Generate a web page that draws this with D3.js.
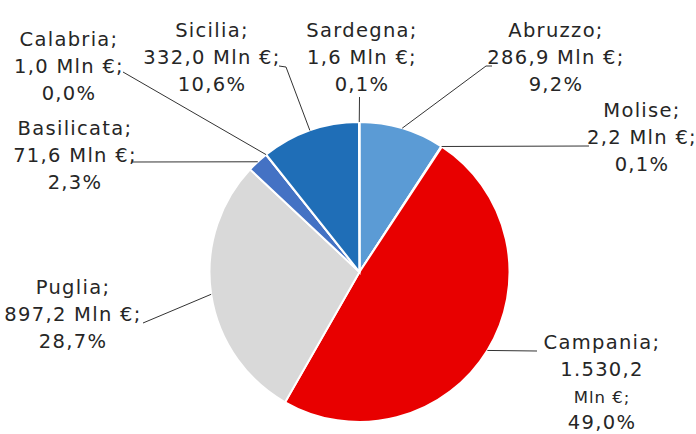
<!DOCTYPE html>
<html lang="it">
<head>
<meta charset="utf-8">
<title>Mezzogiorno</title>
<script src="https://cdn.jsdelivr.net/npm/d3@7"></script>
<style>
  body { margin: 0; background: #fff; }
  .lbl { font-family: "DejaVu Sans", sans-serif; font-size: 19.5px; fill: #262626; letter-spacing: 1.3px; }
  .lead { fill: none; stroke: #333; stroke-width: 1; }
</style>
</head>
<body>
<svg id="chart" width="696" height="434"></svg>
<script>
// data (Mln €)
var regions = ["Abruzzo", "Molise", "Campania", "Puglia", "Basilicata", "Calabria", "Sicilia", "Sardegna"];
var values  = [286.9, 2.2, 1530.2, 897.2, 71.6, 1.0, 332.0, 1.6];
var valueLabels = ["286,9", "2,2", "1.530,2", "897,2", "71,6", "1,0", "332,0", "1,6"];
var pctLabels   = ["9,2%", "0,1%", "49,0%", "28,7%", "2,3%", "0,0%", "10,6%", "0,1%"];
var colors = ["#5B9BD5", "#A5A5A5", "#E80000", "#D9D9D9", "#4472C4", "#264478", "#1F6EB7", "#636363"];

// label placement: text centre x, first baseline y, leader points on label side
var labelPos = [
  {x: 556, y: 37,  pts: [[492, 66], [486, 66]]},
  {x: 642, y: 117, pts: [[589, 146]]},
  {x: 602, y: 349, pts: [[537, 351]]},
  {x: 73,  y: 294, pts: [[143, 323]]},
  {x: 75,  y: 135, pts: [[132, 162]]},
  {x: 69,  y: 46,  pts: [[123, 72]]},
  {x: 212, y: 37,  pts: [[279, 66], [286, 67]]},
  {x: 362, y: 37,  pts: [[359.5, 97]]}
];

var cx = 359.5, cy = 272, r = 150;
var svg = d3.select("#chart");
var g = svg.append("g").attr("transform", "translate(" + cx + "," + cy + ")");

var pie = d3.pie().sort(null).value(function(d){ return d; });
var arcs = pie(values);
var arc = d3.arc().innerRadius(0).outerRadius(r);

g.selectAll("path.slice")
  .data(arcs)
  .enter()
  .append("path")
  .attr("class", "slice")
  .attr("d", arc)
  .attr("fill", function(d, i){ return colors[i]; })
  .attr("stroke", "#fff")
  .attr("stroke-width", 2);

// leader lines
svg.selectAll("path.lead")
  .data(arcs)
  .enter()
  .append("path")
  .attr("class", "lead")
  .attr("d", function(d, i){
    var a = (d.startAngle + d.endAngle) / 2;
    var p = [cx + r * Math.sin(a), cy - r * Math.cos(a)];
    var pts = labelPos[i].pts.concat([p]);
    return d3.line()(pts);
  });

// labels
var lh = 27;
arcs.forEach(function(d, i){
  var lp = labelPos[i];
  var t = svg.append("text").attr("class", "lbl").attr("text-anchor", "middle");
  if (regions[i] == "Campania") {
    t.append("tspan").attr("x", lp.x).attr("y", lp.y).text(regions[i] + ";");
    t.append("tspan").attr("x", lp.x).attr("y", lp.y + lh).text(valueLabels[i]);
    t.append("tspan").attr("x", lp.x).attr("y", lp.y + lh * 2).style("font-size", "16.5px").style("letter-spacing", "1px").text("Mln €;");
    t.append("tspan").attr("x", lp.x).attr("y", lp.y + lh * 3 - 1).text(pctLabels[i]);
  } else {
    t.append("tspan").attr("x", lp.x).attr("y", lp.y).text(regions[i] + ";");
    t.append("tspan").attr("x", lp.x).attr("y", lp.y + lh).text(valueLabels[i] + " Mln €;");
    t.append("tspan").attr("x", lp.x).attr("y", lp.y + lh * 2).text(pctLabels[i]);
  }
});
</script>
</body>
</html>
